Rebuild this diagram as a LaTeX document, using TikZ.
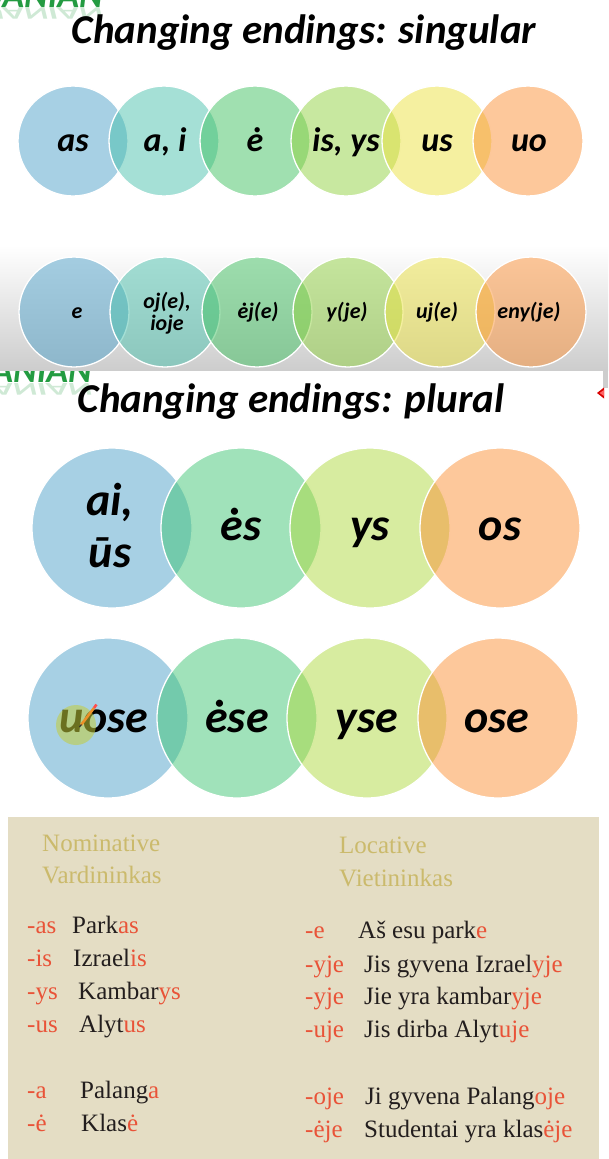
\documentclass[tikz,border=0pt]{standalone}
\usepackage{fontspec}
\newfontfamily\calfont{Carlito}
\newfontfamily\serfont{Liberation Serif}
\definecolor{cBlue}{RGB}{79,161,201}
\definecolor{cTeal}{RGB}{75,193,173}
\definecolor{cGreen}{RGB}{65,193,97}
\definecolor{cLime}{RGB}{145,209,65}
\definecolor{cYellow}{RGB}{235,225,65}
\definecolor{cPeach}{RGB}{251,145,55}
\definecolor{cMint}{RGB}{65,197,117}
\definecolor{cYG}{RGB}{175,217,65}
\definecolor{cGrey}{RGB}{205,205,205}
\definecolor{cLogo}{RGB}{35,155,65}
\definecolor{cPaper}{RGB}{228,221,196}
\definecolor{cHead}{RGB}{203,186,108}
\definecolor{cRed}{RGB}{233,83,56}
\definecolor{cInk}{RGB}{35,30,30}
\definecolor{cBlob}{RGB}{195,205,60}
\definecolor{cPencil}{RGB}{235,145,40}
\begin{document}
\begin{tikzpicture}[x=1pt,y=-1pt,
  bub/.style={circle, inner sep=0pt, draw=white, line width=1.3pt, fill opacity=0.5, draw opacity=1},
  sbub/.style={bub, minimum size=110pt},
  pbub/.style={bub, minimum size=160pt},
  ttl/.style={font=\calfont\bfseries\itshape\fontsize{41}{48}\selectfont, anchor=base, inner sep=0pt},
  labA/.style={font=\calfont\bfseries\itshape\fontsize{34}{40}\selectfont, anchor=base, inner sep=0pt},
  labB/.style={font=\calfont\bfseries\itshape\fontsize{22}{25}\selectfont, anchor=base, inner sep=0pt},
  labC/.style={font=\calfont\bfseries\itshape\fontsize{46}{52}\selectfont, anchor=base, inner sep=0pt},
  logo/.style={font=\calfont\bfseries\itshape\fontsize{36}{40}\selectfont, text=cLogo, anchor=base east, inner sep=0pt},
  hdr/.style={font=\serfont\fontsize{25}{30}\selectfont, text=cHead, anchor=base west, inner sep=0pt},
  ent/.style={font=\serfont\fontsize{25}{30}\selectfont, text=cInk, anchor=base west, inner sep=0pt},
  suf/.style={font=\serfont\fontsize{25}{30}\selectfont, text=cRed, anchor=base west, inner sep=0pt}
]
\useasboundingbox (0,0) rectangle (608,1159);

% second logo fragment (top cut by section 1)
\node[logo] (lg2) at (92,382) {LITHUANIAN};
\node[logo, opacity=0.22] (lg2r) at (92,383) {\scalebox{1}[-0.5]{LITHUANIAN}};

% section 1 background
\shade[top color=white, bottom color=cGrey] (0,245) rectangle (608,370);
\fill[cGrey] (603,370) rectangle (608,388);
\fill[red!85!black] (604,387.5) -- (597,393) -- (604,398.5) -- cycle;
\fill[red!60] (604,390) -- (599.5,393) -- (604,396) -- cycle;

% first logo fragment
\node[logo] (lg1) at (103,7) {LITHUANIAN};
\node[logo, opacity=0.22] (lg1r) at (103,8) {\scalebox{1}[-0.5]{LITHUANIAN}};

% titles
\node[ttl] (title1) at (304,43) {Changing endings: singular};
\node[ttl] (title2) at (291,412) {Changing endings: plural};

% singular row 1
\node[sbub, fill=cBlue]   (a1) at (73,141) {};
\node[sbub, fill=cTeal]   (a2) at (164,141) {};
\node[sbub, fill=cGreen]  (a3) at (255,141) {};
\node[sbub, fill=cLime]   (a4) at (346,141) {};
\node[sbub, fill=cYellow] (a5) at (437,141) {};
\node[sbub, fill=cPeach]  (a6) at (528,141) {};
\node[labA] (ta1) at (73,151) {as};
\node[labA] (ta2) at (165,151) {a, i};
\node[labA] (ta3) at (255,151) {ė};
\node[labA] (ta4) at (346,151) {is, ys};
\node[labA] (ta5) at (437,151) {us};
\node[labA] (ta6) at (529,151) {uo};

% singular row 2
\node[sbub, fill=cBlue]   (b1) at (74,312) {};
\node[sbub, fill=cTeal]   (b2) at (165,312) {};
\node[sbub, fill=cGreen]  (b3) at (257,312) {};
\node[sbub, fill=cLime]   (b4) at (348,312) {};
\node[sbub, fill=cYellow] (b5) at (440,312) {};
\node[sbub, fill=cPeach]  (b6) at (531,312) {};
\node[labB] (tb1) at (77,318) {e};
\node[labB] (tb2a) at (167,308) {oj(e),};
\node[labB] (tb2b) at (167,330) {ioje};
\node[labB] (tb3) at (258,318) {ėj(e)};
\node[labB] (tb4) at (347,318) {y(je)};
\node[labB] (tb5) at (437,318) {uj(e)};
\node[labB] (tb6) at (529,318) {eny(je)};

% plural row 1
\node[pbub, fill=cBlue]  (c1) at (112,528) {};
\node[pbub, fill=cMint]  (c2) at (241,528) {};
\node[pbub, fill=cYG]    (c3) at (370,528) {};
\node[pbub, fill=cPeach] (c4) at (500,528) {};
\node[labC] (tc1a) at (110,515) {ai,};
\node[labC] (tc1b) at (110,567) {ūs};
\node[labC] (tc2) at (241,540) {ės};
\node[labC] (tc3) at (370,540) {ys};
\node[labC] (tc4) at (500,540) {os};

% plural row 2
\node[pbub, fill=cBlue]  (d1) at (108,718) {};
\node[pbub, fill=cMint]  (d2) at (237,718) {};
\node[pbub, fill=cYG]    (d3) at (367,718) {};
\node[pbub, fill=cPeach] (d4) at (498,718) {};
\node[labC] (td1) at (104,732) {uose};
\node[labC] (td2) at (237,732) {ėse};
\node[labC] (td3) at (367,732) {yse};
\node[labC] (td4) at (497,732) {ose};
\fill[cBlob, opacity=0.55] (76,725) circle[radius=20pt];
\draw[cPencil, line width=2.6pt] (81,725) -- (94,708);
\draw[red!70!white, line width=2.6pt] (94,708) -- (96.5,704.5);
\draw[black!80, line width=1.2pt] (79.5,727) -- (81.5,724.5);

% table
\fill[cPaper] (8,817) rectangle (599,1159);
\node[hdr] (h1) at (42,851) {Nominative};
\node[hdr] (h2) at (42,883) {Vardininkas};
\node[hdr] (h3) at (339,853) {Locative};
\node[hdr] (h4) at (339,886) {Vietininkas};

\node[suf] (s1) at (27,933) {-as};
\node[ent] (w1) at (72,933) {Park\textcolor{cRed}{as}};
\node[suf] (s2) at (27,966) {-is};
\node[ent] (w2) at (73,966) {Izrael\textcolor{cRed}{is}};
\node[suf] (s3) at (27,999) {-ys};
\node[ent] (w3) at (78,999) {Kambar\textcolor{cRed}{ys}};
\node[suf] (s4) at (27,1032) {-us};
\node[ent] (w4) at (79,1032) {Alyt\textcolor{cRed}{us}};
\node[suf] (s5) at (27,1098) {-a};
\node[ent] (w5) at (80,1098) {Palang\textcolor{cRed}{a}};
\node[suf] (s6) at (27,1131) {-ė};
\node[ent] (w6) at (81,1131) {Klas\textcolor{cRed}{ė}};

\node[suf] (r1) at (305,938) {-e};
\node[ent] (v1) at (358,938) {Aš esu park\textcolor{cRed}{e}};
\node[suf] (r2) at (305,972) {-yje};
\node[ent] (v2) at (364,972) {Jis gyvena Izrael\textcolor{cRed}{yje}};
\node[suf] (r3) at (305,1004) {-yje};
\node[ent] (v3) at (364,1004) {Jie yra kambar\textcolor{cRed}{yje}};
\node[suf] (r4) at (305,1037) {-uje};
\node[ent] (v4) at (364,1037) {Jis dirba Alyt\textcolor{cRed}{uje}};
\node[suf] (r5) at (305,1104) {-oje};
\node[ent] (v5) at (365,1104) {Ji gyvena Palang\textcolor{cRed}{oje}};
\node[suf] (r6) at (305,1137) {-ėje};
\node[ent] (v6) at (364,1137) {Studentai yra klas\textcolor{cRed}{ėje}};
\end{tikzpicture}
\end{document}
